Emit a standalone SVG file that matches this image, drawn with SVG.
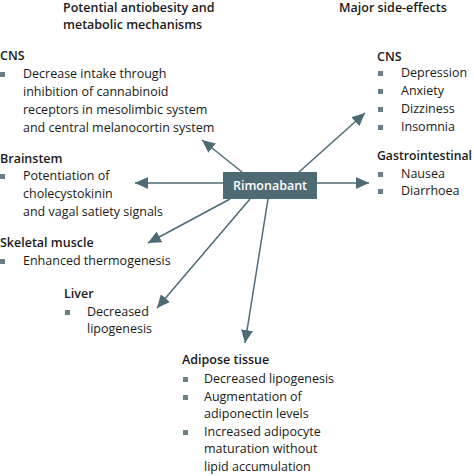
<svg xmlns="http://www.w3.org/2000/svg" width="474" height="476" viewBox="0 0 474 476">
<defs>
<style>
text{font-family:"Open Sans","Noto Sans","Liberation Sans",sans-serif;font-size:12.5px;fill:#1a1a1a}
.h{font-weight:600}
.b{fill:#6b8089}
.ln{stroke:#4d6a75;stroke-width:1.5;fill:none;marker-end:url(#ah)}
</style>
<marker id="ah" markerUnits="userSpaceOnUse" markerWidth="14" markerHeight="12" refX="13" refY="6" orient="auto">
<path d="M0,0 L13,6 L0,12 z" fill="#4d6a75"/>
</marker>
</defs>
<rect width="474" height="476" fill="#fff"/>
<g id="connectors">
<line class="ln" x1="242" y1="172" x2="202" y2="140"/>
<line class="ln" x1="299" y1="172" x2="365" y2="113"/>
<line class="ln" x1="223" y1="183" x2="135" y2="183"/>
<line class="ln" x1="317" y1="183" x2="369" y2="183"/>
<line class="ln" x1="230" y1="199" x2="148" y2="243"/>
<line class="ln" x1="250" y1="199" x2="157" y2="308"/>
<line class="ln" x1="268" y1="199" x2="245" y2="343"/>
</g>
<g id="rimonabant">
<rect x="223" y="172" width="94" height="27" fill="#4d6a75"/>
<text x="270" y="190" text-anchor="middle" class="h" style="fill:#fff">Rimonabant</text>
</g>
<g id="title-left">
<text class="h" x="63" y="12">Potential antiobesity and</text>
<text class="h" x="63" y="29">metabolic mechanisms</text>
</g>
<g id="title-right">
<text class="h" x="339" y="12">Major side-effects</text>
</g>
<g id="cns-mech">
<text class="h" x="0" y="60">CNS</text>
<rect class="b" x="0" y="72" width="5" height="5"/>
<text x="23" y="78">Decrease intake through</text>
<text x="23" y="96">inhibition of cannabinoid</text>
<text x="23" y="114">receptors in mesolimbic system</text>
<text x="23" y="132">and central melanocortin system</text>
</g>
<g id="brainstem">
<text class="h" x="0" y="163">Brainstem</text>
<rect class="b" x="0" y="174" width="5" height="5"/>
<text x="23" y="180">Potentiation of</text>
<text x="23" y="198">cholecystokinin</text>
<text x="23" y="216">and vagal satiety signals</text>
</g>
<g id="skeletal">
<text class="h" x="0" y="247">Skeletal muscle</text>
<rect class="b" x="0" y="259" width="5" height="5"/>
<text x="23" y="265">Enhanced thermogenesis</text>
</g>
<g id="liver">
<text class="h" x="64" y="298">Liver</text>
<rect class="b" x="65" y="310" width="5" height="5"/>
<text x="87" y="316">Decreased</text>
<text x="87" y="333">lipogenesis</text>
</g>
<g id="adipose">
<text class="h" x="182" y="364">Adipose tissue</text>
<rect class="b" x="183" y="377" width="5" height="5"/>
<text x="204" y="383">Decreased lipogenesis</text>
<rect class="b" x="183" y="395" width="5" height="5"/>
<text x="204" y="401">Augmentation of</text>
<text x="204" y="418">adiponectin levels</text>
<rect class="b" x="183" y="430" width="5" height="5"/>
<text x="204" y="436">Increased adipocyte</text>
<text x="204" y="453">maturation without</text>
<text x="204" y="471">lipid accumulation</text>
</g>
<g id="cns-side">
<text class="h" x="377" y="61">CNS</text>
<rect class="b" x="378" y="71" width="5" height="5"/>
<text x="401" y="77">Depression</text>
<rect class="b" x="378" y="89" width="5" height="5"/>
<text x="401" y="95">Anxiety</text>
<rect class="b" x="378" y="107" width="5" height="5"/>
<text x="401" y="113">Dizziness</text>
<rect class="b" x="378" y="125" width="5" height="5"/>
<text x="401" y="131">Insomnia</text>
</g>
<g id="gi">
<text class="h" x="377" y="160" textLength="95" lengthAdjust="spacingAndGlyphs">Gastrointestinal</text>
<rect class="b" x="378" y="172" width="5" height="5"/>
<text x="401" y="178">Nausea</text>
<rect class="b" x="378" y="189" width="5" height="5"/>
<text x="401" y="195">Diarrhoea</text>
</g>
</svg>
